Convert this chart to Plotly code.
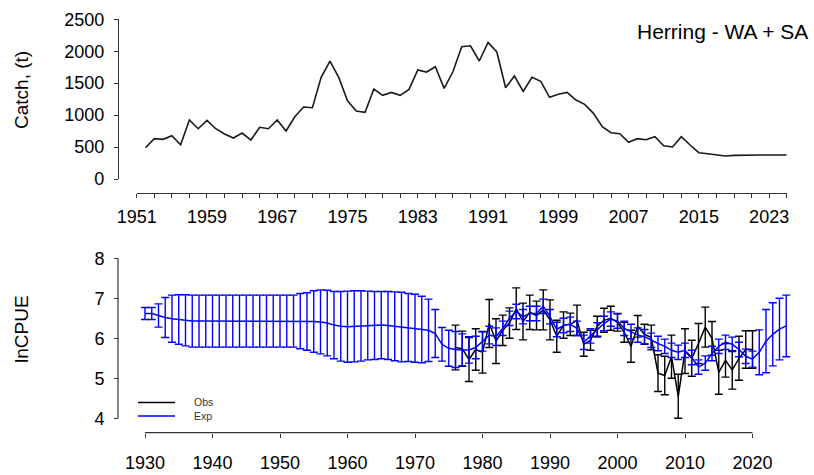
import plotly.graph_objects as go

# ---------------- data ----------------
catch_years = list(range(1952, 2026))
catch_t = [490, 631, 621, 678, 537, 923, 787, 918, 787, 704,
           642, 720, 610, 809, 787, 923, 751, 975, 1127, 1116,
           1591, 1847, 1591, 1225, 1064, 1043, 1408, 1310, 1356, 1310,
           1403, 1706, 1674, 1757, 1419, 1679, 2070, 2086, 1847, 2139,
           1988, 1429, 1612, 1372, 1591, 1529, 1278, 1326, 1356, 1236,
           1169, 1028, 819, 725, 709, 574, 631, 615, 662, 521,
           501, 662, 532, 412, 396, 380, 360, 370, 375, 375,
           375, 375, 375, 375]

exp_years = list(range(1930, 2026))
exp_mean = ([6.62, 6.62, 6.57, 6.52, 6.49, 6.47, 6.45] + [6.43] * 16 +
            [6.43, 6.42, 6.42, 6.41, 6.38, 6.33, 6.30, 6.29, 6.30, 6.31,
             6.32, 6.32, 6.33, 6.32, 6.30, 6.28, 6.27, 6.25, 6.22, 6.20,
             6.12, 5.85, 5.75, 5.72, 5.71, 5.71, 5.77, 5.92, 6.08, 6.04,
             6.25, 6.50, 6.67, 6.54, 6.62, 6.62, 6.80, 6.54, 6.22, 6.32,
             6.35, 6.25, 5.90, 6.06, 6.21, 6.37, 6.48, 6.43, 6.25, 6.17,
             6.08, 6.04, 5.95, 5.87, 5.80, 5.70, 5.65, 5.70, 5.52, 5.28,
             5.38, 5.62, 5.80, 5.90, 5.85, 5.72, 5.55, 5.48, 5.65, 5.93,
             6.10, 6.23, 6.31])
exp_err = ([0.15, 0.15, 0.29, 0.50, 0.59, 0.62, 0.64] + [0.65] * 16 +
           [0.69, 0.72, 0.77, 0.80, 0.82, 0.84, 0.87, 0.89, 0.89, 0.88,
            0.86, 0.85, 0.84, 0.85, 0.86, 0.87, 0.85, 0.85, 0.83, 0.78,
            0.60, 0.42, 0.45, 0.45, 0.40, 0.33, 0.28, 0.24, 0.22, 0.22] +
           [0.18] * 37 + [0.20, 0.56, 0.79, 0.79, 0.77, 0.77])

obs_years = list(range(1976, 2021))
obs_mean = [5.77, 5.74, 5.47, 5.72, 5.65, 6.37, 5.93, 6.20, 6.38, 6.74,
            6.42, 6.65, 6.57, 6.71, 6.46, 6.05, 6.33, 6.35, 6.45, 5.85,
            5.95, 6.30, 6.45, 6.50, 6.40, 6.15, 5.80, 6.30, 6.10, 6.02,
            5.13, 5.07, 5.54, 4.55, 5.68, 5.50, 5.87, 6.28, 6.00, 5.15,
            5.45, 5.21, 5.50, 5.72, 5.72]
obs_err = [0.56, 0.44, 0.55, 0.52, 0.52, 0.60, 0.56, 0.38, 0.38, 0.52,
           0.46, 0.43, 0.36, 0.50, 0.50, 0.40, 0.33, 0.28, 0.38, 0.30,
           0.25, 0.25, 0.30, 0.30, 0.22, 0.25, 0.40, 0.27, 0.25, 0.31,
           0.46, 0.48, 0.54, 0.55, 0.56, 0.45, 0.50, 0.50, 0.42, 0.55,
           0.42, 0.48, 0.55, 0.47, 0.47]

top_tick_years = list(range(1951, 2026, 2))
top_label_years = list(range(1951, 2024, 8))
top_ticktext = [str(y) if y in top_label_years else "" for y in top_tick_years]
catch_ticks = [0, 500, 1000, 1500, 2000, 2500]

bottom_tick_years = list(range(1930, 2021, 10))
cpue_ticks = [4, 5, 6, 7, 8]

legend_labels = ["Obs", "Exp"]

# ---------------- layout helpers (pixel -> paper) ----------------
W, H = 814, 475
def fx(px):
    return px / W
def fy(py):
    return 1 - py / H

FONT = "Liberation Sans, Arial, sans-serif"
AX_COL = "#333333"
TICK_FONT = dict(family=FONT, size=18, color="black")

fig = go.Figure()

# top panel: catch
fig.add_trace(go.Scatter(x=catch_years, y=catch_t, mode="lines",
                         line=dict(color="#1a1a1a", width=1.6),
                         xaxis="x", yaxis="y", showlegend=False))

# bottom panel: obs then exp
fig.add_trace(go.Scatter(x=obs_years, y=obs_mean, mode="lines", name=legend_labels[0],
                         line=dict(color="black", width=1.5),
                         error_y=dict(type="data", array=obs_err, symmetric=True,
                                      color="black", thickness=1.4, width=4),
                         xaxis="x2", yaxis="y2", showlegend=False))
fig.add_trace(go.Scatter(x=exp_years, y=exp_mean, mode="lines", name=legend_labels[1],
                         line=dict(color="#0000ff", width=1.5),
                         error_y=dict(type="data", array=exp_err, symmetric=True,
                                      color="#0000ff", thickness=1.4, width=4),
                         xaxis="x2", yaxis="y2", showlegend=False))

# top panel geometry
x1_lo, x1_hi = 136.7, 786.7      # 1951 .. 2025
y1_lo, y1_hi = 179.0, 19.3       # 0 .. 2500
# bottom panel geometry (6.75 px / yr, 40 px / unit)
ppy = 6.75
x2_range = [1929.0, 2026.5]
x2_lo = 145 + (x2_range[0] - 1930) * ppy
x2_hi = 145 + (x2_range[1] - 1930) * ppy
y2_range = [3.8, 8.2]
y2_lo = 258.3 + (8 - y2_range[0]) * 40
y2_hi = 258.3 + (8 - y2_range[1]) * 40
yaxis_px = 118.0

common_ax = dict(showgrid=False, zeroline=False, ticks="outside", ticklen=4,
                 tickwidth=1.2, tickcolor=AX_COL, tickfont=TICK_FONT,
                 automargin=False)

fig.update_layout(
    width=W, height=H, autosize=False,
    margin=dict(l=0, r=0, t=0, b=0, pad=0, autoexpand=False),
    paper_bgcolor="white", plot_bgcolor="white",
    showlegend=False,
    xaxis=dict(domain=[fx(x1_lo), fx(x1_hi)], range=[1951, 2025],
               anchor="free", position=fy(192.7),
               tickvals=top_tick_years, ticktext=top_ticktext,
               showline=True, linecolor=AX_COL, linewidth=1.2,
               ticklabelstandoff=4, **common_ax),
    yaxis=dict(domain=[fy(y1_lo), fy(y1_hi)], range=[0, 2500],
               anchor="free", position=fx(yaxis_px),
               tickvals=catch_ticks,
               showline=True, linecolor=AX_COL, linewidth=1.2,
               ticklabelstandoff=6, **common_ax),
    xaxis2=dict(domain=[fx(x2_lo), fx(x2_hi)], range=x2_range,
                anchor="free", position=fy(432.7),
                tickvals=bottom_tick_years,
                showline=False, ticklabelstandoff=10, **common_ax),
    yaxis2=dict(domain=[fy(y2_lo), fy(y2_hi)], range=y2_range,
                anchor="free", position=fx(yaxis_px),
                tickvals=cpue_ticks,
                showline=False, ticklabelstandoff=6, **common_ax),
    shapes=[
        dict(type="line", xref="x2", yref="paper", x0=1930, x1=2020,
             y0=fy(432.7), y1=fy(432.7), line=dict(color=AX_COL, width=1.2)),
        dict(type="line", xref="paper", yref="y2", x0=fx(yaxis_px), x1=fx(yaxis_px),
             y0=4, y1=8, line=dict(color=AX_COL, width=1.2)),
        # legend keys
        dict(type="line", xref="paper", yref="paper", x0=fx(138), x1=fx(175),
             y0=fy(402.5), y1=fy(402.5), line=dict(color="black", width=1.5)),
        dict(type="line", xref="paper", yref="paper", x0=fx(138), x1=fx(175),
             y0=fy(416), y1=fy(416), line=dict(color="#0000ff", width=1.5)),
    ],
    annotations=[
        dict(text="Herring - WA + SA", xref="paper", yref="paper",
             x=fx(810), y=fy(32), xanchor="right", yanchor="middle",
             showarrow=False, font=dict(family=FONT, size=21, color="black")),
        dict(text="Catch, (t)", xref="paper", yref="paper",
             x=fx(21), y=fy(90), xanchor="center", yanchor="middle",
             textangle=-90, showarrow=False,
             font=dict(family=FONT, size=19, color="black")),
        dict(text="lnCPUE", xref="paper", yref="paper",
             x=fx(21), y=fy(329), xanchor="center", yanchor="middle",
             textangle=-90, showarrow=False,
             font=dict(family=FONT, size=19, color="black")),
        dict(text="<br>".join(legend_labels), xref="paper", yref="paper",
             x=fx(193), y=fy(409), xanchor="left", yanchor="middle",
             align="left", showarrow=False, borderpad=0,
             font=dict(family=FONT, size=10.5, color="#333333")),
    ],
)

fig.write_html("out.html", config={"displayModeBar": False},
               post_script="document.body.style.margin='0px';")
